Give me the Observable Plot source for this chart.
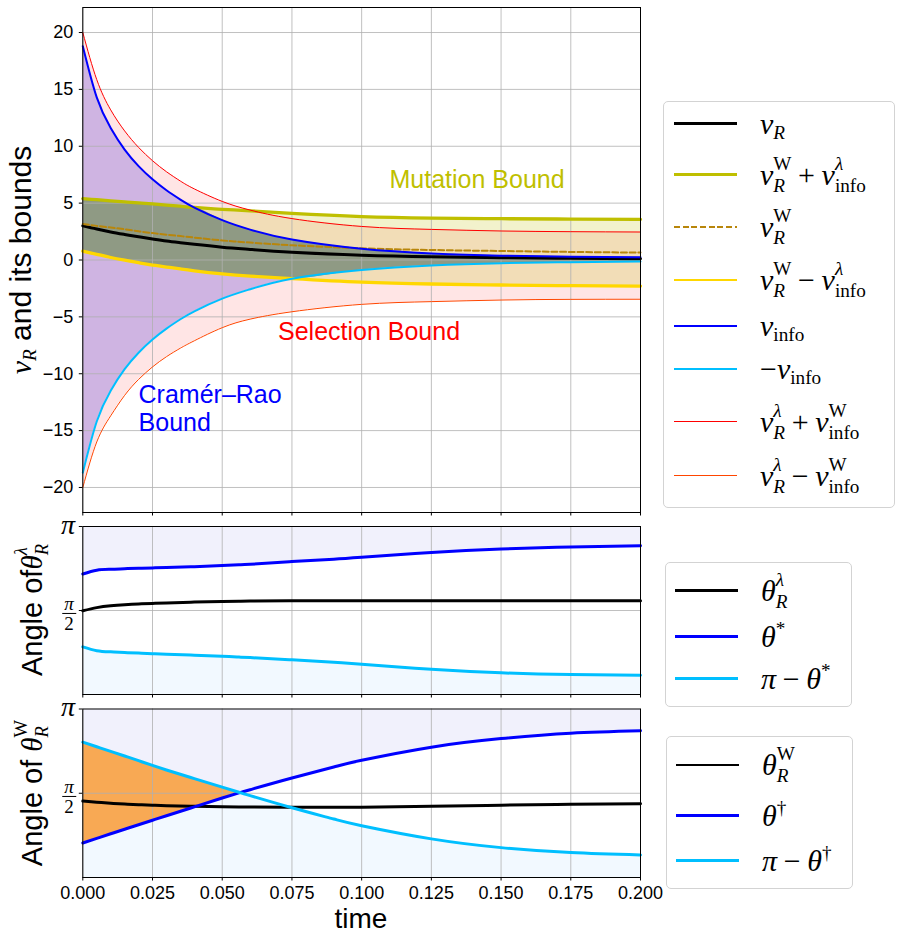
<!DOCTYPE html>
<html><head><meta charset="utf-8">
<script src="https://cdn.jsdelivr.net/npm/d3@7"></script>
<script src="https://cdn.jsdelivr.net/npm/@observablehq/plot@0.6"></script>
<style>
body{margin:0;background:#fff}
#root{position:relative;width:901px;height:941px;overflow:hidden;font-family:"Liberation Sans",Arial,sans-serif;color:#000}
#root svg{position:absolute;left:0;overflow:visible}
.abs{position:absolute;white-space:nowrap;line-height:1}
.m{font-family:"Liberation Serif","Times New Roman",serif}
.mi{font-style:italic}
.ss{display:inline-grid;vertical-align:baseline}
.ss>span{grid-area:1/1;font-size:0.64em;line-height:1}
.ss>.sp{transform:translateY(-0.77em)}
.ss>.sb{transform:translateY(0.37em)}
.ss>.sp1{transform:translateY(-0.62em)}
.ss>.sb1{transform:translateY(0.28em)}
.op{margin:0 0.22em}
.legend{position:absolute;border:1px solid #d3d3d3;border-radius:5px;background:#fff;box-sizing:border-box}
.lline{position:absolute}
</style></head>
<body><div id="root"></div>
<script>
// ---------- data: top panel (v_R and its bounds) ----------
const tTop    = [0, 0.005, 0.01, 0.015, 0.02, 0.025, 0.03, 0.035, 0.04, 0.05, 0.06, 0.075, 0.1, 0.125, 0.15, 0.175, 0.2];
const vR      = [3.0, 2.72, 2.47, 2.25, 2.04, 1.85, 1.67, 1.52, 1.38, 1.13, 0.93, 0.68, 0.42, 0.28, 0.2, 0.15, 0.12];
const vRW     = [3.17, 3.0, 2.85, 2.7, 2.52, 2.37, 2.23, 2.1, 1.97, 1.72, 1.53, 1.3, 1.03, 0.88, 0.79, 0.71, 0.65];
const mutUp   = [5.4, 5.3, 5.2, 5.11, 5.02, 4.93, 4.83, 4.73, 4.62, 4.46, 4.32, 4.1, 3.82, 3.69, 3.63, 3.6, 3.58];
const mutLo   = [0.78, 0.5, 0.22, -0.02, -0.24, -0.44, -0.62, -0.79, -0.95, -1.22, -1.42, -1.64, -1.95, -2.11, -2.2, -2.26, -2.29];
const vInfo   = [18.8, 14.3, 11.6, 9.7, 8.25, 7.09, 6.13, 5.31, 4.61, 3.5, 2.67, 1.8, 0.99, 0.58, 0.38, 0.29, 0.24];
const negInfo = [-18.7, -14.2, -11.5, -9.6, -8.15, -6.99, -6.03, -5.21, -4.51, -3.4, -2.57, -1.64, -0.87, -0.475, -0.28, -0.19, -0.14];
const selUp   = [20, 15.86, 13.2, 11.35, 9.9, 8.73, 7.76, 6.94, 6.25, 5.15, 4.39, 3.64, 2.95, 2.69, 2.55, 2.49, 2.46];
const selLo   = [-20, -16.0, -13.7, -11.9, -10.5, -9.4, -8.5, -7.75, -7.1, -5.95, -5.2, -4.55, -3.9, -3.66, -3.52, -3.46, -3.45];

// ---------- data: angle panels ----------
const tAng      = [0, 0.005, 0.01, 0.015, 0.02, 0.025, 0.03, 0.04, 0.05, 0.056, 0.06, 0.075, 0.09, 0.1, 0.125, 0.15, 0.175, 0.2];
const thLam     = [1.565, 1.625, 1.66, 1.68, 1.694, 1.703, 1.712, 1.728, 1.74, 1.745, 1.748, 1.753, 1.754, 1.755, 1.755, 1.755, 1.755, 1.755];
const thStar    = [2.254, 2.325, 2.342, 2.352, 2.36, 2.367, 2.375, 2.39, 2.41, 2.425, 2.435, 2.485, 2.53, 2.565, 2.655, 2.72, 2.758, 2.78];
const piThStar  = [0.89, 0.82, 0.798, 0.785, 0.774, 0.764, 0.755, 0.735, 0.716, 0.70, 0.69, 0.648, 0.602, 0.565, 0.472, 0.405, 0.372, 0.36];
const thW       = [1.425, 1.403, 1.385, 1.37, 1.358, 1.348, 1.34, 1.328, 1.32, 1.316, 1.314, 1.31, 1.309, 1.311, 1.327, 1.348, 1.365, 1.376];
const thDag     = [0.643, 0.729, 0.815, 0.9, 0.984, 1.068, 1.151, 1.317, 1.482, 1.578, 1.637, 1.855, 2.06, 2.185, 2.43, 2.59, 2.69, 2.735];
const piThDag   = [2.523, 2.437, 2.351, 2.265, 2.178, 2.09, 2.005, 1.843, 1.685, 1.589, 1.526, 1.30, 1.09, 0.965, 0.72, 0.557, 0.464, 0.419];

// ---------- ticks ----------
const xTicks = [0, 0.025, 0.05, 0.075, 0.1, 0.125, 0.15, 0.175, 0.2];
const yTicksTop = [-20, -15, -10, -5, 0, 5, 10, 15, 20];
const angTicks = [Math.PI / 2, Math.PI];

const topRows = tTop.map((t, i) => ({t, vR: vR[i], vRW: vRW[i], mutUp: mutUp[i], mutLo: mutLo[i],
  vInfo: vInfo[i], negInfo: negInfo[i], selUp: selUp[i], selLo: selLo[i]}));
const midRows = tAng.map((t, i) => ({t, th: thLam[i], a: thStar[i], b: piThStar[i]}));
const botRows = tAng.map((t, i) => ({t, th: thW[i], a: thDag[i], b: piThDag[i]}));

const curve = "natural";
const grid = {stroke: "#b0b0b0", strokeOpacity: 1, strokeWidth: 0.8};
const common = {width: 901, marginLeft: 82.3, marginRight: 261,
  style: {fontFamily: "Liberation Sans, Arial, sans-serif", fontSize: "18px", color: "black", background: "transparent", overflow: "visible"}};
const minus = d => d < 0 ? "\u2212" + (-d) : String(d);

const p1 = Plot.plot({
  ...common, height: 520, marginTop: 7, marginBottom: 8,
  x: {domain: [0, 0.2]}, y: {domain: [-22.2, 22.2]},
  marks: [
    Plot.areaY(topRows, {x: "t", y1: "selLo", y2: "selUp", fill: "#ff0000", fillOpacity: 0.1, curve}),
    Plot.areaY(topRows, {x: "t", y1: "negInfo", y2: "vInfo", fill: "#cfb4e2", curve}),
    Plot.areaY(topRows, {x: "t", y1: "mutLo", y2: "mutUp", fill: "#bfbf00", fillOpacity: 0.2, curve}),
    Plot.areaY(topRows, {x: "t", y1: d => Math.max(d.mutLo, d.negInfo), y2: d => Math.min(d.mutUp, d.vInfo), fill: "#8f9a84", curve: "monotone-x"}),
    Plot.gridX({ticks: xTicks, ...grid}),
    Plot.gridY({ticks: yTicksTop, ...grid}),
    Plot.line(topRows, {x: "t", y: "vR", stroke: "black", strokeWidth: 3, curve}),
    Plot.line(topRows, {x: "t", y: "mutUp", stroke: "#bfbf00", strokeWidth: 3.3, curve}),
    Plot.line(topRows, {x: "t", y: "vRW", stroke: "#b8860b", strokeWidth: 2, strokeDasharray: "6,2.7", curve}),
    Plot.line(topRows, {x: "t", y: "mutLo", stroke: "#ffd700", strokeWidth: 3.3, curve}),
    Plot.line(topRows, {x: "t", y: "vInfo", stroke: "#0000ff", strokeWidth: 2, curve}),
    Plot.line(topRows, {x: "t", y: "negInfo", stroke: "#00bfff", strokeWidth: 2, curve}),
    Plot.line(topRows, {x: "t", y: "selUp", stroke: "#ff0000", strokeWidth: 1, curve}),
    Plot.line(topRows, {x: "t", y: "selLo", stroke: "#ff4500", strokeWidth: 1, curve}),
    Plot.text([{x: 0.11, y: 7.0, s: "Mutation Bound"}], {x: "x", y: "y", text: "s", textAnchor: "start", fill: "#bfbf00", fontSize: 25}),
    Plot.text([{x: 0.07, y: -6.33, s: "Selection Bound"}], {x: "x", y: "y", text: "s", textAnchor: "start", fill: "#ff0000", fontSize: 25}),
    Plot.text([{x: 0.02, y: -13.0, s: "Cramér–Rao\nBound"}], {x: "x", y: "y", text: "s", textAnchor: "start", fill: "#0000ff", fontSize: 25, lineHeight: 1.13}),
    Plot.axisX({ticks: xTicks, tickSize: 3.5, tickFormat: () => "", label: null, stroke: "black"}),
    Plot.axisY({ticks: yTicksTop, tickSize: 3.5, tickPadding: 6, tickFormat: minus, label: null, stroke: "black", fontSize: 18}),
    Plot.frame({stroke: "black", strokeWidth: 1})
  ]
});

function anglePanel(data, height, mt, mb, showX, orange) {
  return Plot.plot({
    ...common, height, marginTop: mt, marginBottom: mb,
    x: {domain: [0, 0.2]}, y: {domain: [0, Math.PI]},
    marks: [
      Plot.areaY(data, {x: "t", y1: "a", y2: () => Math.PI, fill: "#f1f1fc", curve}),
      Plot.areaY(data, {x: "t", y1: () => 0, y2: "b", fill: "#f2f9ff", curve}),
      orange ? Plot.areaY(data.filter(d => d.t <= 0.056), {x: "t", y1: "a", y2: "b", fill: "#f8a954", curve}) : null,
      Plot.gridX({ticks: xTicks, ...grid}),
      Plot.gridY({ticks: [Math.PI / 2], ...grid}),
      Plot.line(data, {x: "t", y: "th", stroke: "black", strokeWidth: 3, curve}),
      Plot.line(data, {x: "t", y: "a", stroke: "#0000ff", strokeWidth: 3, curve}),
      Plot.line(data, {x: "t", y: "b", stroke: "#00bfff", strokeWidth: 3, curve}),
      Plot.axisX({ticks: xTicks, tickSize: 3.5, tickPadding: 5, label: null, stroke: "black", fontSize: 18,
        tickFormat: showX ? d3.format(".3f") : () => ""}),
      Plot.axisY({ticks: angTicks, tickSize: 3.5, tickFormat: () => "", label: null, stroke: "black"}),
      Plot.frame({stroke: "black", strokeWidth: 1})
    ]
  });
}
const p2 = anglePanel(midRows, 184, 8, 8, false, false);
const p3 = anglePanel(botRows, 207, 8.5, 30, true, true);

const root = document.getElementById("root");
[[p1, 0], [p2, 518], [p3, 700]].forEach(([s, y]) => { s.style.top = y + "px"; root.appendChild(s); });

// ---------- HTML text ----------
const mi = s => `<span class="mi">${s}</span>`;
const scr = (sub, sup) => {
  const both = sub !== undefined && sup !== undefined;
  return `<span class="ss">${sup !== undefined ? `<span class="${both ? "sp" : "sp1"}">${sup}</span>` : ""}${sub !== undefined ? `<span class="${both ? "sb" : "sb1"}">${sub}</span>` : ""}</span>`;
};
const op = s => `<span class="op">${s}</span>`;
function add(html, css, cls = "abs") {
  const d = document.createElement("div");
  d.className = cls; d.innerHTML = html; d.style.cssText = css; root.appendChild(d); return d;
}
// y-axis titles (rotated)
add(`<span class="m">${mi("v")}${scr(mi("R"))}</span> and its bounds`,
  "left:21.3px;top:260px;font-size:30px;transform:translate(-50%,-50%) rotate(-90deg)");
add(`Angle of<span class="m">${mi("θ")}${scr(mi("R"), mi("λ"))}</span>`,
  "left:32.2px;top:610px;font-size:29px;transform:translate(-50%,-50%) rotate(-90deg)");
add(`Angle of <span class="m">${mi("θ")}${scr(mi("R"), "W")}</span>`,
  "left:32.2px;top:792.7px;font-size:29px;transform:translate(-50%,-50%) rotate(-90deg)");
// x title
add("time", "left:361px;top:904.5px;font-size:28px;transform:translateX(-50%)");
// pi tick labels
function piLabels(tickTop, tickMid) {
  add(`<span class="m mi">π</span>`, `left:75px;top:${tickTop + 8 - 23.4}px;font-size:28px;transform:translateX(-100%)`);
  add(`<div class="m" style="display:inline-flex;flex-direction:column;align-items:center;font-size:19px;line-height:0.95">
      <span class="mi" style="padding:0 2px">π</span><span style="border-top:1.2px solid #000;width:100%;padding-top:1px;text-align:center">2</span></div>`,
    `left:69px;top:${tickMid + 4}px;transform:translate(-50%,-50%)`);
}
piLabels(526, 610);
piLabels(708.5, 792.75);

// ---------- legends ----------
const FS = 30, ASC = 0.8375 * FS;
function legendBox(l, t, w, h) { add("", `left:${l}px;top:${t}px;width:${w}px;height:${h}px`, "legend"); }
function entry(x0, x1, y, style, tx, html) {
  add("", `left:${x0}px;top:${y - style.w / 2}px;width:${x1 - x0}px;height:${style.w}px;` +
    (style.dash ? `background:repeating-linear-gradient(to right, ${style.c} 0 6px, transparent 6px 8.7px)` : `background:${style.c}`), "lline");
  add(`<span class="m">${html}</span>`, `left:${tx}px;top:${y + 10.5 - ASC}px;font-size:${FS}px`);
}
legendBox(663, 101, 232, 407);
const L1 = [
  [123.3, {c: "#000", w: 2.7}, `${mi("v")}${scr(mi("R"))}`],
  [174.3, {c: "#bfbf00", w: 2.7}, `${mi("v")}${scr(mi("R"), "W")}${op("+")}${mi("v")}${scr("info", mi("λ"))}`],
  [226.7, {c: "#b8860b", w: 2, dash: true}, `${mi("v")}${scr(mi("R"), "W")}`],
  [280.0, {c: "#ffd700", w: 2.7}, `${mi("v")}${scr(mi("R"), "W")}${op("−")}${mi("v")}${scr("info", mi("λ"))}`],
  [325.7, {c: "#0000ff", w: 2}, `${mi("v")}${scr("info")}`],
  [369.0, {c: "#00bfff", w: 2}, `−${mi("v")}${scr("info")}`],
  [421.7, {c: "#ff0000", w: 1}, `${mi("v")}${scr(mi("R"), mi("λ"))}${op("+")}${mi("v")}${scr("info", "W")}`],
  [475.3, {c: "#ff4500", w: 1}, `${mi("v")}${scr(mi("R"), mi("λ"))}${op("−")}${mi("v")}${scr("info", "W")}`]
];
L1.forEach(([y, s, h]) => entry(674, 737, y, s, 760, h));

legendBox(665, 562, 187, 145);
const L2 = [
  [590.7, {c: "#000", w: 2.7}, `${mi("θ")}${scr(mi("R"), mi("λ"))}`],
  [636.7, {c: "#0000ff", w: 2.7}, `${mi("θ")}${scr(undefined, "*")}`],
  [678.3, {c: "#00bfff", w: 2.7}, `${mi("π")}${op("−")}${mi("θ")}${scr(undefined, "*")}`]
];
L2.forEach(([y, s, h]) => entry(675, 738, y, s, 761, h));

legendBox(666, 736, 187, 153);
const L3 = [
  [765.0, {c: "#000", w: 2.7}, `${mi("θ")}${scr(mi("R"), "W")}`],
  [815.3, {c: "#0000ff", w: 2.7}, `${mi("θ")}${scr(undefined, "†")}`],
  [860.7, {c: "#00bfff", w: 2.7}, `${mi("π")}${op("−")}${mi("θ")}${scr(undefined, "†")}`]
];
L3.forEach(([y, s, h]) => entry(676, 739, y, s, 762, h));
</script>
</body></html>
